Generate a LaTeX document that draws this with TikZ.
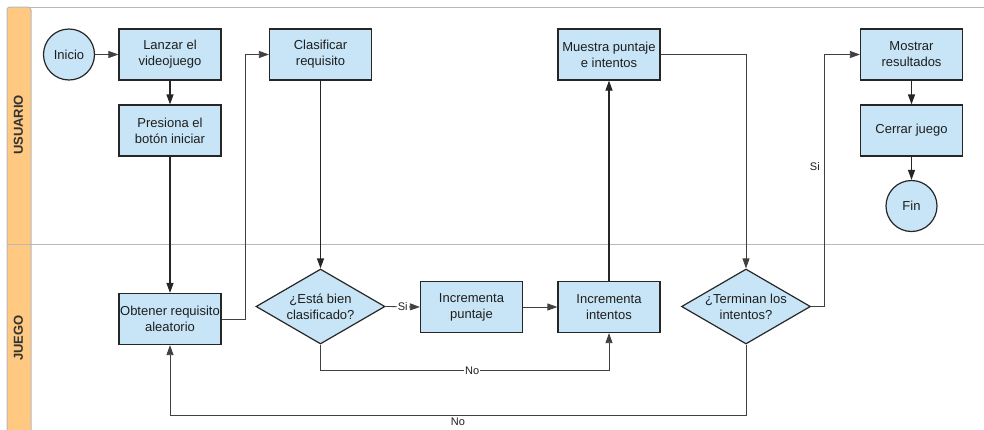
\documentclass[tikz,border=0pt]{standalone}
\usepackage{fontspec}
\setmainfont{Liberation Sans}
\usetikzlibrary{shapes.geometric,arrows.meta}
\definecolor{boxblue}{HTML}{C7E5F6}
\definecolor{lanecol}{HTML}{FFC981}
\definecolor{framegray}{HTML}{B8B8B8}
\definecolor{txt}{HTML}{1E1E1E}
\tikzset{
  stepbox/.style={draw=black!85, fill=boxblue, line width=1.2pt, minimum width=102pt, minimum height=51pt, inner sep=0pt, align=center, text=txt, font=\fontsize{13}{16}\selectfont},
  roundnode/.style={circle, draw=black!85, fill=boxblue, line width=1.2pt, minimum size=51pt, inner sep=0pt, text=txt, font=\fontsize{13}{16}\selectfont},
  decision/.style={diamond, draw=black!85, fill=boxblue, line width=1.2pt, minimum width=129pt, minimum height=75pt, inner sep=0pt},
  dtext/.style={align=center, text=txt, font=\fontsize{13}{16}\selectfont},
  thickarrow/.style={draw=black!85, line width=1.2pt, -{Triangle[length=10pt,width=7pt]}},
  thinarrow/.style={draw=black!75, line width=0.8pt, -{Triangle[length=10pt,width=7pt]}},
  flowlabel/.style={text=txt, font=\fontsize{11}{12}\selectfont, inner sep=1pt},
  lanetitle/.style={rotate=90, text=black!80, font=\bfseries\fontsize{13}{14}\selectfont}
}
\begin{document}
\begin{tikzpicture}[x=1pt,y=-1pt]
\useasboundingbox (0,0) rectangle (984,429);
% frame and lanes
\filldraw[fill=lanecol, draw=framegray, line width=1pt, rounded corners=3pt] (7,432) -- (7,7) -- (31,7) -- (31,432);
\draw[framegray, line width=1pt] (28,7) -- (984,7);
\draw[framegray, line width=1pt] (7,244) -- (984,244);
\node[lanetitle] (lu) at (18.5,125) {USUARIO};
\node[lanetitle] (lj) at (18.5,338) {JUEGO};
% nodes
\node[roundnode] (ini) at (69,54.5) {Inicio};
\node[stepbox] (lan) at (170,54.5) {Lanzar el\\videojuego};
\node[stepbox] (pre) at (170,130.5) {Presiona el\\botón iniciar};
\node[stepbox] (obt) at (170,319) {Obtener requisito\\aleatorio};
\node[stepbox] (cla) at (320.5,54.5) {Clasificar\\requisito};
\node[decision] (d1) at (320.5,306.5) {};
\node[dtext] (d1t) at (d1) {¿Está bien\\clasificado?};
\node[stepbox] (ipu) at (471.5,307) {Incrementa\\puntaje};
\node[stepbox] (iin) at (609,307) {Incrementa\\intentos};
\node[stepbox] (mue) at (609,54.5) {Muestra puntaje\\e intentos};
\node[decision] (d2) at (746,306.5) {};
\node[dtext] (d2t) at (d2) {¿Terminan los\\intentos?};
\node[stepbox] (mos) at (911.5,54.5) {Mostrar\\resultados};
\node[stepbox] (cer) at (911.5,130.5) {Cerrar juego};
\node[roundnode] (fin) at (911.5,206) {Fin};
% connectors
\draw[thinarrow] (ini) -- (lan);
\draw[thickarrow] (lan) -- (pre);
\draw[thickarrow] (pre) -- (obt);
\draw[thinarrow] (obt.east) -- ++(24,0) |- (cla.west);
\draw[thickarrow] (cla) -- (d1.north);
\draw[thinarrow] (d1.east) -- node[flowlabel, fill=white, pos=0.5] {Si} (ipu.west);
\draw[thinarrow] (ipu) -- (iin);
\draw[thinarrow] (d1.south) -- ++(0,26) -| node[flowlabel, fill=white, pos=0.263] {No} (iin.south);
\draw[thickarrow] (iin) -- (mue);
\draw[thinarrow] (mue.east) -| (d2.north);
\draw[thinarrow] (d2.east) -- ++(13,0) |- node[flowlabel, left=3pt, pos=0.277] {Si} (mos.west);
\draw[thinarrow] (d2.south) -- ++(0,70.5) -| node[flowlabel, below=1pt, pos=0.25] {No} (obt.south);
\draw[thickarrow] (mos) -- (cer);
\draw[thickarrow] (cer) -- (fin);
\end{tikzpicture}
\end{document}
